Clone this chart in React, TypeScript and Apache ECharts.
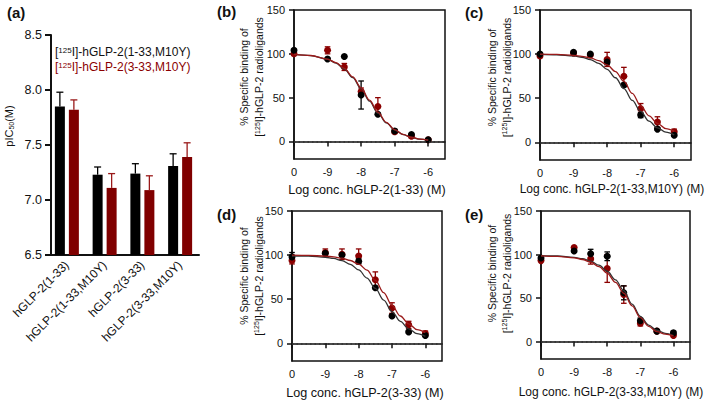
import React, { useEffect, useRef } from 'react';
import * as echarts from 'echarts';

// ---------- Panel (a): bar chart ----------
const BAR_CATEGORIES = ['hGLP-2(1-33)', 'hGLP-2(1-33,M10Y)', 'hGLP-2(3-33)', 'hGLP-2(3-33,M10Y)'];
const BAR_BLACK = [7.85, 7.23, 7.24, 7.31];
const BAR_BLACK_ERR = [0.13, 0.07, 0.09, 0.11];
const BAR_RED = [7.82, 7.11, 7.09, 7.39];
const BAR_RED_ERR = [0.09, 0.13, 0.13, 0.13];

// ---------- Panels (b)-(e): competition curves ----------
const DOSE_X = [-10, -9, -8.5, -8, -7.5, -7, -6.5, -6];
const DOSE_TICKS = [-10, -9, -8, -7, -6];
const DOSE_TICK_LABELS = ['0', '-9', '-8', '-7', '-6'];
const BINDING_TICKS = [0, 50, 100, 150];
const FIT_X = [-10, -9.5, -9, -8.75, -8.5, -8.25, -8, -7.75, -7.5, -7.25, -7, -6.75, -6.5, -6.25, -6];

const B_BLACK = [104, 94, 97, 53, 31, 12, 8, 2];
const B_BLACK_ERR = [0, 0, 0, 16, 0, 2, 1, 0];
const B_RED = [100, 104, 85, 57, 40, 11, 6, 2];
const B_RED_ERR = [2, 4, 4, 4, 10, 2, 2, 1];
const B_BLACK_FIT = [99.3, 98.0, 93.8, 89.5, 82.7, 72.9, 60.2, 46.0, 32.4, 21.2, 13.1, 7.8, 4.6, 2.6, 1.5];
const B_RED_FIT = [99.4, 98.1, 94.0, 89.9, 83.3, 73.8, 61.3, 47.1, 33.4, 21.9, 13.6, 8.1, 4.8, 2.7, 1.6];

const C_BLACK = [100, 102, 100, 91, 65, 31, 15, 8];
const C_BLACK_ERR = [0, 0, 0, 3, 2, 3, 1, 1];
const C_RED = [98, 101, 99, 94, 75, 38, 23, 12];
const C_RED_ERR = [2, 0, 0, 8, 10, 6, 6, 3];
const C_BLACK_FIT = [99.8, 99.3, 97.9, 96.4, 93.8, 89.5, 82.8, 73.2, 61.0, 47.6, 35.0, 24.0, 16.5, 11.5, 8.5];
const C_RED_FIT = [99.9, 99.6, 98.6, 97.5, 95.7, 92.6, 87.7, 80.2, 69.0, 55.5, 41.5, 30.0, 21.5, 15.5, 12.5];

const D_BLACK = [98, 102, 100, 93, 63, 31, 13, 9];
const D_BLACK_ERR = [5, 0, 0, 3, 0, 0, 0, 0];
const D_RED = [94, 103, 101, 99, 72, 40, 21, 11];
const D_RED_ERR = [4, 4, 6, 8, 9, 6, 4, 3];
const D_BLACK_FIT = [99.0, 98.8, 97.6, 96.2, 93.7, 89.6, 83.2, 74.0, 62.2, 49.0, 36.0, 25.0, 16.5, 11.0, 8.0];
const D_RED_FIT = [100, 99.7, 98.9, 98.0, 96.5, 93.9, 89.7, 83.0, 71.5, 57.5, 43.0, 31.0, 22.0, 15.5, 12.0];

const E_BLACK = [96, 104, 101, 98, 56, 24, 12, 10];
const E_BLACK_ERR = [0, 0, 5, 5, 8, 3, 0, 2];
const E_RED = [93, 108, 95, 84, 54, 21, 12, 7];
const E_RED_ERR = [0, 0, 6, 16, 10, 3, 0, 0];
const E_BLACK_FIT = [98.8, 98.3, 96.8, 95.2, 92.4, 87.8, 80.8, 70.9, 58.4, 43.0, 29.0, 19.0, 13.0, 9.5, 7.0];
const E_RED_FIT = [98.5, 97.9, 96.2, 94.3, 91.2, 86.1, 78.5, 68.0, 55.5, 41.0, 27.5, 17.5, 11.5, 8.5, 6.5];

const FONT = "'Liberation Sans', Arial, sans-serif";
const INK = '#111';
const RED = '#8B0000';

const PANELS = [
  {
    label: '(b)', xTitle: 'Log conc. hGLP-2(1-33) (M)', xTitleSize: 12.6,
    black: B_BLACK, blackErr: B_BLACK_ERR, red: B_RED, redErr: B_RED_ERR, blackFit: B_BLACK_FIT, redFit: B_RED_FIT,
    grid: { left: 294, top: 10, width: 151, height: 149 },
    labelPos: [217, 11], xTitlePos: [367, 190], yTitleX: [243.5, 259], yTitleY: 77,
  },
  {
    label: '(c)', xTitle: 'Log conc. hGLP-2(1-33,M10Y) (M)', xTitleSize: 12,
    black: C_BLACK, blackErr: C_BLACK_ERR, red: C_RED, redErr: C_RED_ERR, blackFit: C_BLACK_FIT, redFit: C_RED_FIT,
    grid: { left: 540, top: 10, width: 151, height: 150 },
    labelPos: [465, 12], xTitlePos: [612, 189], yTitleX: [491.5, 506.5], yTitleY: 77.5,
  },
  {
    label: '(d)', xTitle: 'Log conc. hGLP-2(3-33) (M)', xTitleSize: 12.6,
    black: D_BLACK, blackErr: D_BLACK_ERR, red: D_RED, redErr: D_RED_ERR, blackFit: D_BLACK_FIT, redFit: D_RED_FIT,
    grid: { left: 292, top: 211, width: 150, height: 150 },
    labelPos: [217, 214], xTitlePos: [365, 393], yTitleX: [243.5, 258.5], yTitleY: 276,
  },
  {
    label: '(e)', xTitle: 'Log conc. hGLP-2(3-33,M10Y) (M)', xTitleSize: 12,
    black: E_BLACK, blackErr: E_BLACK_ERR, red: E_RED, redErr: E_RED_ERR, blackFit: E_BLACK_FIT, redFit: E_RED_FIT,
    grid: { left: 541, top: 211, width: 149, height: 148 },
    labelPos: [465, 214], xTitlePos: [611, 392], yTitleX: [491.5, 506.5], yTitleY: 273.5,
  },
];

function errRenderer(color: string, cap: number, offset: number, upOnly: boolean) {
  return (params: any, api: any) => {
    const x = api.value(0);
    const y = api.value(1);
    const e = api.value(2);
    if (!e) return { type: 'group', children: [] };
    const top = api.coord([x, y + e]);
    const bot = upOnly ? api.coord([x, y]) : api.coord([x, y - e]);
    const cx = top[0] + offset;
    const style = { stroke: color, lineWidth: 1.3 };
    const children: any[] = [
      { type: 'line', shape: { x1: cx, y1: top[1], x2: cx, y2: bot[1] }, style },
      { type: 'line', shape: { x1: cx - cap, y1: top[1], x2: cx + cap, y2: top[1] }, style },
    ];
    if (!upOnly) children.push({ type: 'line', shape: { x1: cx - cap, y1: bot[1], x2: cx + cap, y2: bot[1] }, style });
    return { type: 'group', children };
  };
}

function textEl(text: string, x: number, y: number, size: number, opts: any = {}) {
  return {
    type: 'text',
    x, y,
    rotation: opts.rotation || 0,
    style: {
      text,
      font: `${opts.bold ? 'bold ' : ''}${size}px ${FONT}`,
      fontSize: size,
      fontFamily: FONT,
      fontWeight: opts.bold ? 'bold' : 'normal',
      fill: opts.color || INK,
      align: opts.align || 'center',
      verticalAlign: 'middle',
      textAlign: opts.align || 'center',
      textVerticalAlign: 'middle',
      rich: opts.rich,
    },
    silent: true,
  };
}

export default function App() {
  const ref = useRef<HTMLDivElement>(null);
  useEffect(() => {
    if (!ref.current) return;
    const chart = echarts.init(ref.current, null, { renderer: 'svg' });

    const grids: any[] = [{ left: 48, top: 35, width: 151, height: 220 }];
    const xAxes: any[] = [{
      gridIndex: 0, type: 'category', data: BAR_CATEGORIES,
      axisLine: { lineStyle: { color: INK, width: 2 } },
      axisTick: { alignWithLabel: true, length: 6, lineStyle: { color: INK, width: 2 } },
      axisLabel: { rotate: 45, interval: 0, fontSize: 12, color: INK, fontFamily: FONT, margin: 8 },
    }];
    const yAxes: any[] = [{
      gridIndex: 0, type: 'value', min: 6.5, max: 8.5, interval: 0.5, offset: -3,
      axisLine: { show: true, lineStyle: { color: INK, width: 2 } },
      axisTick: { show: true, length: 6, lineStyle: { color: INK, width: 2 } },
      axisLabel: { fontSize: 12.5, color: INK, fontFamily: FONT, margin: 9, formatter: (v: number) => v.toFixed(1) },
      splitLine: { show: false },
    }];
    const series: any[] = [
      { type: 'bar', xAxisIndex: 0, yAxisIndex: 0, data: BAR_BLACK, barWidth: 10, barGap: '40%', itemStyle: { color: '#000' } },
      { type: 'bar', xAxisIndex: 0, yAxisIndex: 0, data: BAR_RED, barWidth: 10, barGap: '40%', itemStyle: { color: '#800000' } },
      {
        type: 'custom', xAxisIndex: 0, yAxisIndex: 0, z: 1,
        data: BAR_BLACK.map((v, i) => [i, v, BAR_BLACK_ERR[i]]),
        renderItem: errRenderer('#000', 3.5, -7, true),
      },
      {
        type: 'custom', xAxisIndex: 0, yAxisIndex: 0, z: 1,
        data: BAR_RED.map((v, i) => [i, v, BAR_RED_ERR[i]]),
        renderItem: errRenderer('#9a1a1a', 3.5, 7, true),
      },
    ];
    const graphics: any[] = [
      textEl('(a)', 7, 12, 15, { bold: true, align: 'left' }),
      textEl('pIC{sub|50}(M)', 9, 126, 11, { rotation: Math.PI / 2, rich: { sub: { fontSize: 7, verticalAlign: 'bottom', fill: INK, fontFamily: FONT } } }),
      textEl('[{sup|125}I]-hGLP-2(1-33,M10Y)', 55, 52, 12, { align: 'left', rich: { sup: { fontSize: 8, verticalAlign: 'top', fill: INK, fontFamily: FONT } } }),
      textEl('[{sup|125}I]-hGLP-2(3-33,M10Y)', 55, 67, 12, { align: 'left', color: RED, rich: { sup: { fontSize: 8, verticalAlign: 'top', fill: RED, fontFamily: FONT } } }),
    ];

    PANELS.forEach((p, k) => {
      const gi = k + 1;
      grids.push({ ...p.grid, show: true, borderColor: INK, borderWidth: 1.5, backgroundColor: 'transparent' });
      xAxes.push({
        gridIndex: gi, type: 'value', min: -10, max: -5.5,
        axisLine: { lineStyle: { color: INK, width: 1.5 } },
        axisTick: { show: true, customValues: DOSE_TICKS, length: 5, lineStyle: { color: INK, width: 1.5 } },
        axisLabel: {
          customValues: DOSE_TICKS, fontSize: 11, color: INK, fontFamily: FONT, margin: 7,
          formatter: (v: number) => { const i = DOSE_TICKS.indexOf(v); return i >= 0 ? DOSE_TICK_LABELS[i] : ''; },
        },
        splitLine: { show: false },
      });
      yAxes.push({
        gridIndex: gi, type: 'value', min: -20, max: 150,
        axisLine: { show: true, lineStyle: { color: INK, width: 1.5 } },
        axisTick: { show: true, customValues: BINDING_TICKS, length: 5, lineStyle: { color: INK, width: 1.5 } },
        axisLabel: { customValues: BINDING_TICKS, fontSize: 11, color: INK, fontFamily: FONT, margin: 9 },
        splitLine: { show: false },
      });
      const fitLine = (vals: number[], color: string) => ({
        type: 'line', xAxisIndex: gi, yAxisIndex: gi, showSymbol: false, symbol: 'none',
        smooth: 0.35, smoothMonotone: 'x',
        data: FIT_X.map((x, i) => [x, vals[i]]),
        lineStyle: { color, width: 1.3 }, silent: true,
      });
      const errSeries = (vals: number[], errs: number[], color: string) => ({
        type: 'custom', xAxisIndex: gi, yAxisIndex: gi,
        data: DOSE_X.map((x, i) => [x, vals[i], errs[i]]),
        renderItem: errRenderer(color, 2.8, 0, false),
      });
      const pts = (vals: number[], color: string, extra: any = {}) => ({
        type: 'scatter', xAxisIndex: gi, yAxisIndex: gi, symbolSize: 7,
        data: DOSE_X.map((x, i) => [x, vals[i]]),
        itemStyle: { color, opacity: 1 }, ...extra,
      });
      series.push(fitLine(p.blackFit, '#333'));
      series.push(fitLine(p.redFit, '#9a1a1a'));
      series.push(errSeries(p.red, p.redErr, RED));
      series.push(pts(p.red, RED));
      series.push(errSeries(p.black, p.blackErr, '#000'));
      series.push(pts(p.black, '#000', {
        markLine: {
          silent: true, symbol: ['none', 'none'], label: { show: false },
          lineStyle: { color: '#333', type: [1.5, 3], width: 1.5 },
          data: [{ yAxis: 0 }],
        },
      }));
      graphics.push(textEl(p.label, p.labelPos[0], p.labelPos[1], 15, { bold: true, align: 'left' }));
      graphics.push(textEl(p.xTitle, p.xTitlePos[0], p.xTitlePos[1], p.xTitleSize));
      graphics.push(textEl('% Specific binding of', p.yTitleX[0], p.yTitleY, 10.5, { rotation: Math.PI / 2 }));
      graphics.push(textEl('[{sup|125}I]-hGLP-2 radioligands', p.yTitleX[1], p.yTitleY, 10.5, {
        rotation: Math.PI / 2, rich: { sup: { fontSize: 7, verticalAlign: 'top', fill: INK, fontFamily: FONT } },
      }));
    });

    chart.setOption({
      animation: false,
      backgroundColor: '#fff',
      textStyle: { fontFamily: FONT },
      grid: grids,
      xAxis: xAxes,
      yAxis: yAxes,
      series,
      graphic: graphics,
    });
    return () => chart.dispose();
  }, []);
  return <div ref={ref} style={{ position: 'fixed', left: 0, top: 0, width: 709, height: 400, background: '#fff' }} />;
}
